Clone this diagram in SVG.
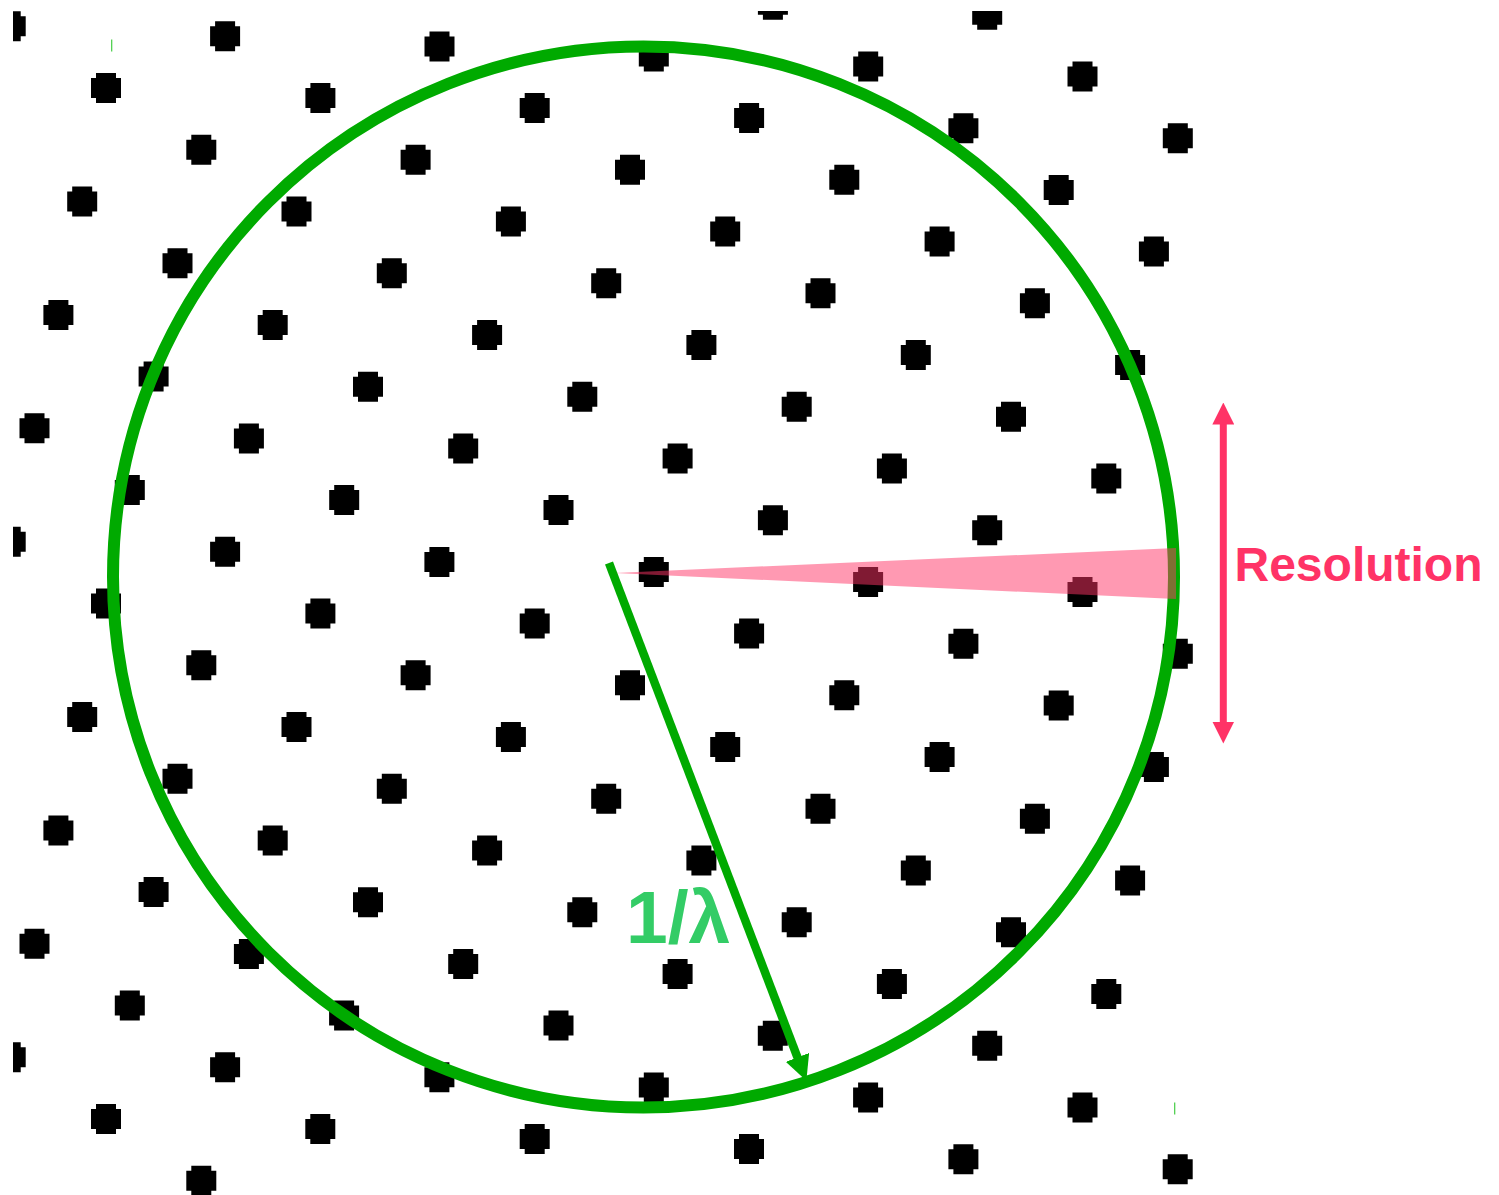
<svg xmlns="http://www.w3.org/2000/svg" width="1499" height="1195" viewBox="0 0 1499 1195">
<style>
.dot{fill:#000}
.ring{fill:none;stroke:#00aa00;stroke-width:12}
.radius{stroke:#00aa00;stroke-width:8.5;fill:none}
.res{stroke:#ff3366;stroke-width:7;fill:none}
.wedge{fill:#ff3366;fill-opacity:0.5}
.lbl{font-family:"Liberation Sans",Arial,sans-serif;font-weight:bold}
.tick{stroke:#44cc44;stroke-width:1.2}
</style>
<defs>
<path id="d" class="dot" d="M-10,-15H10V-10H15V10H10V15H-10V10H-15V-10H-10Z"/>
<clipPath id="clip"><rect x="13" y="11" width="1486" height="1184"/></clipPath>
<marker id="ag" markerUnits="userSpaceOnUse" viewBox="0 0 25 25" markerWidth="25" markerHeight="25" refX="1" refY="12.5" orient="auto"><path d="M0,0L25,12.5L0,25Z" fill="#00aa00"/></marker>
<marker id="ar" markerUnits="userSpaceOnUse" viewBox="0 0 22 22" markerWidth="22" markerHeight="22" refX="1" refY="11" orient="auto-start-reverse"><path d="M0,0L22,11L0,22Z" fill="#ff3366"/></marker>
</defs>
<rect width="1499" height="1195" fill="#fff"/>
<g id="lattice" clip-path="url(#clip)">
<use href="#d" x="772.9" y="4.7"/><use href="#d" x="987.2" y="14.8"/>
<use href="#d" x="10.7" y="26.3"/><use href="#d" x="225.1" y="36.3"/><use href="#d" x="439.5" y="46.4"/><use href="#d" x="653.8" y="56.4"/><use href="#d" x="868.2" y="66.4"/><use href="#d" x="1082.5" y="76.5"/>
<use href="#d" x="106" y="88"/><use href="#d" x="320.4" y="98"/><use href="#d" x="534.7" y="108.1"/><use href="#d" x="749.1" y="118.1"/><use href="#d" x="963.4" y="128.2"/><use href="#d" x="1177.8" y="138.2"/>
<use href="#d" x="201.3" y="149.7"/><use href="#d" x="415.6" y="159.8"/><use href="#d" x="630" y="169.8"/><use href="#d" x="844.3" y="179.8"/><use href="#d" x="1058.7" y="189.9"/>
<use href="#d" x="82.2" y="201.4"/><use href="#d" x="296.5" y="211.5"/><use href="#d" x="510.9" y="221.5"/><use href="#d" x="725.2" y="231.6"/><use href="#d" x="939.6" y="241.6"/><use href="#d" x="1153.9" y="251.6"/>
<use href="#d" x="177.5" y="263.2"/><use href="#d" x="391.8" y="273.2"/><use href="#d" x="606.2" y="283.2"/><use href="#d" x="820.5" y="293.3"/><use href="#d" x="1034.9" y="303.3"/>
<use href="#d" x="58.4" y="314.9"/><use href="#d" x="272.7" y="324.9"/><use href="#d" x="487.1" y="335"/><use href="#d" x="701.4" y="345"/><use href="#d" x="915.8" y="355"/><use href="#d" x="1130.1" y="365.1"/>
<use href="#d" x="153.6" y="376.6"/><use href="#d" x="368" y="386.7"/><use href="#d" x="582.3" y="396.7"/><use href="#d" x="796.7" y="406.8"/><use href="#d" x="1011" y="416.8"/>
<use href="#d" x="34.5" y="428.3"/><use href="#d" x="248.9" y="438.4"/><use href="#d" x="463.2" y="448.4"/><use href="#d" x="677.6" y="458.4"/><use href="#d" x="891.9" y="468.5"/><use href="#d" x="1106.3" y="478.5"/>
<use href="#d" x="129.8" y="490.1"/><use href="#d" x="344.2" y="500.1"/><use href="#d" x="558.5" y="510.1"/><use href="#d" x="772.9" y="520.2"/><use href="#d" x="987.2" y="530.2"/>
<use href="#d" x="10.7" y="541.8"/><use href="#d" x="225.1" y="551.8"/><use href="#d" x="439.4" y="561.9"/><use href="#d" x="653.8" y="571.9"/><use href="#d" x="868.1" y="581.9"/><use href="#d" x="1082.5" y="592"/>
<use href="#d" x="106" y="603.5"/><use href="#d" x="320.4" y="613.5"/><use href="#d" x="534.7" y="623.6"/><use href="#d" x="749.1" y="633.6"/><use href="#d" x="963.4" y="643.7"/><use href="#d" x="1177.8" y="653.7"/>
<use href="#d" x="201.3" y="665.2"/><use href="#d" x="415.6" y="675.3"/><use href="#d" x="630" y="685.3"/><use href="#d" x="844.3" y="695.3"/><use href="#d" x="1058.7" y="705.4"/>
<use href="#d" x="82.2" y="716.9"/><use href="#d" x="296.5" y="727"/><use href="#d" x="510.9" y="737"/><use href="#d" x="725.2" y="747"/><use href="#d" x="939.6" y="757.1"/><use href="#d" x="1153.9" y="767.1"/>
<use href="#d" x="177.5" y="778.7"/><use href="#d" x="391.8" y="788.7"/><use href="#d" x="606.2" y="798.7"/><use href="#d" x="820.5" y="808.8"/><use href="#d" x="1034.9" y="818.8"/>
<use href="#d" x="58.4" y="830.4"/><use href="#d" x="272.7" y="840.4"/><use href="#d" x="487.1" y="850.5"/><use href="#d" x="701.4" y="860.5"/><use href="#d" x="915.8" y="870.6"/><use href="#d" x="1130.1" y="880.6"/>
<use href="#d" x="153.6" y="892.1"/><use href="#d" x="368" y="902.2"/><use href="#d" x="582.3" y="912.2"/><use href="#d" x="796.7" y="922.2"/><use href="#d" x="1011" y="932.3"/>
<use href="#d" x="34.5" y="943.8"/><use href="#d" x="248.9" y="953.9"/><use href="#d" x="463.2" y="963.9"/><use href="#d" x="677.6" y="973.9"/><use href="#d" x="891.9" y="984"/><use href="#d" x="1106.3" y="994"/>
<use href="#d" x="129.8" y="1005.6"/><use href="#d" x="344.1" y="1015.6"/><use href="#d" x="558.5" y="1025.6"/><use href="#d" x="772.8" y="1035.7"/><use href="#d" x="987.2" y="1045.7"/>
<use href="#d" x="10.7" y="1057.3"/><use href="#d" x="225.1" y="1067.3"/><use href="#d" x="439.4" y="1077.3"/><use href="#d" x="653.8" y="1087.4"/><use href="#d" x="868.1" y="1097.4"/><use href="#d" x="1082.5" y="1107.5"/>
<use href="#d" x="106" y="1119"/><use href="#d" x="320.3" y="1129"/><use href="#d" x="534.7" y="1139.1"/><use href="#d" x="749" y="1149.1"/><use href="#d" x="963.4" y="1159.2"/><use href="#d" x="1177.7" y="1169.2"/>
<use href="#d" x="201.3" y="1180.7"/>
</g>
<g id="ewald-circle"><circle class="ring" cx="643.5" cy="577" r="530.5"/></g>
<g id="marks"><line class="tick" x1="111.7" y1="39.5" x2="111.7" y2="51.5"/><line class="tick" x1="1174.7" y1="1102.5" x2="1174.7" y2="1114.5"/></g>
<g id="connectors">
<line id="radius-arrow" class="radius" x1="609" y1="563" x2="797.8" y2="1058.3" marker-end="url(#ag)"/>
<line id="resolution-arrow" class="res" x1="1223.3" y1="423.5" x2="1223.3" y2="722.5" marker-start="url(#ar)" marker-end="url(#ar)"/>
</g>
<g id="resolution-wedge"><polygon class="wedge" points="615,573 1176,548 1176,599"/></g>
<g id="label-resolution"><text class="lbl" x="1234.5" y="581" font-size="48" fill="#ff3366">Resolution</text></g>
<g id="label-lambda"><text class="lbl" x="626" y="943" font-size="75" fill="#33cc66">1/λ</text></g>
</svg>
